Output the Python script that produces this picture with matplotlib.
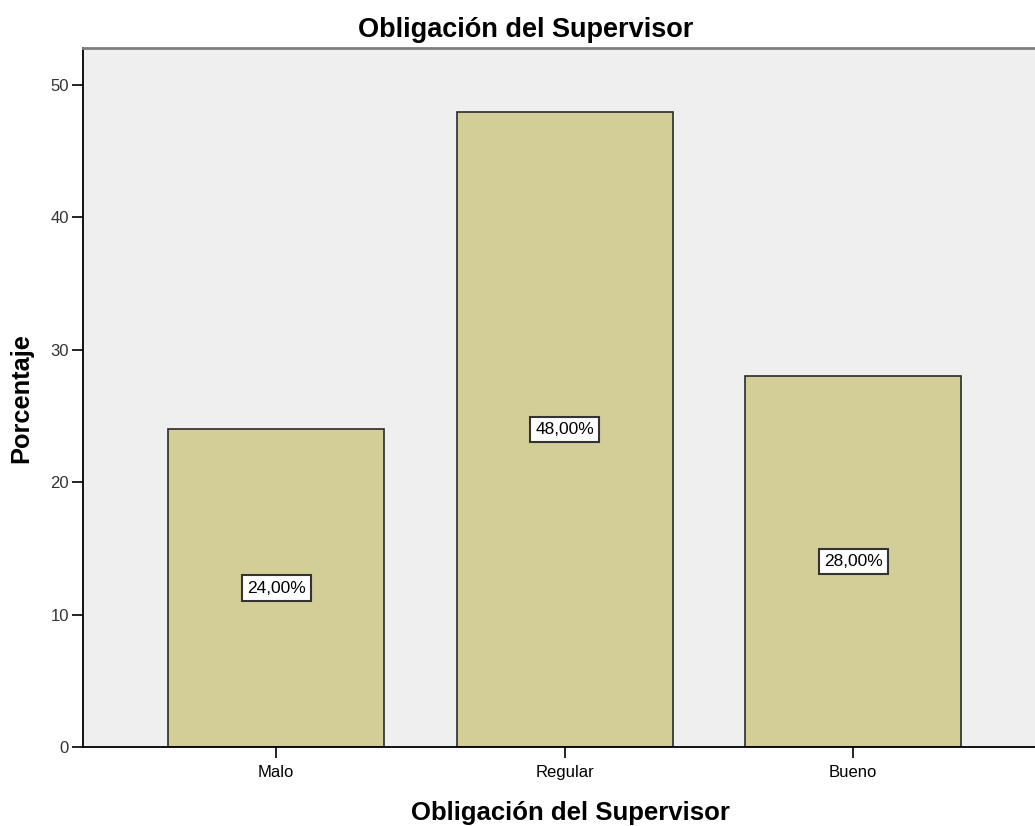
import matplotlib
matplotlib.use("Agg")
import matplotlib.pyplot as plt

categories = ["Malo", "Regular", "Bueno"]
percentages = [24.0, 48.0, 28.0]
yticks = [0, 10, 20, 30, 40, 50]

title = "Obligación del Supervisor"
font = "Liberation Sans"

fig = plt.figure(figsize=(10.35, 8.26), dpi=100)
ax = fig.add_axes([83 / 1035, 79 / 826, 1 - 83 / 1035, 699 / 826])
ax.set_facecolor("#efefef")

x = list(range(len(categories)))
ax.bar(x, percentages, width=0.75, color="#d3ce97", edgecolor="#2b2b2b", linewidth=1.2, zorder=2)

# value labels in the middle of each bar
for xi, v in zip(x, percentages):
    ax.text(xi, v / 2, f"{v:.2f}".replace(".", ",") + "%", ha="center", va="center",
            fontsize=12.5, family=font, zorder=3,
            bbox=dict(boxstyle="square,pad=0.3", facecolor="white", edgecolor="#333333", linewidth=1.5))

ax.set_xlim(-0.67, 2.63)
ax.set_ylim(0, 52.8)
ax.set_xticks(x)
ax.set_xticklabels(categories, family=font, fontsize=12)
ax.set_yticks(yticks)
ax.set_yticklabels([str(t) for t in yticks], family=font, fontsize=12, color="#333333")
ax.tick_params(axis="both", direction="out", length=8, width=1.2, color="black")
ax.tick_params(axis="x", pad=5)
ax.tick_params(axis="y", pad=2)

ax.spines["right"].set_visible(False)
ax.spines["top"].set_color("#7f7f7f")
ax.spines["top"].set_linewidth(2)
ax.spines["left"].set_linewidth(1.3)
ax.spines["bottom"].set_linewidth(1.3)

fig.text(526 / 1035, 1 - 37 / 826, title, ha="center", va="baseline", fontsize=19.5,
         fontweight="bold", family=font)
fig.text(570 / 1035, 1 - 820 / 826, title, ha="center", va="baseline", fontsize=18.5,
         fontweight="bold", family=font)
fig.text(21 / 1035, 1 - 398 / 826, "Porcentaje", ha="center", va="center", rotation=90,
         fontsize=18.3, fontweight="bold", family=font)

fig.savefig("out.png", dpi=100)
